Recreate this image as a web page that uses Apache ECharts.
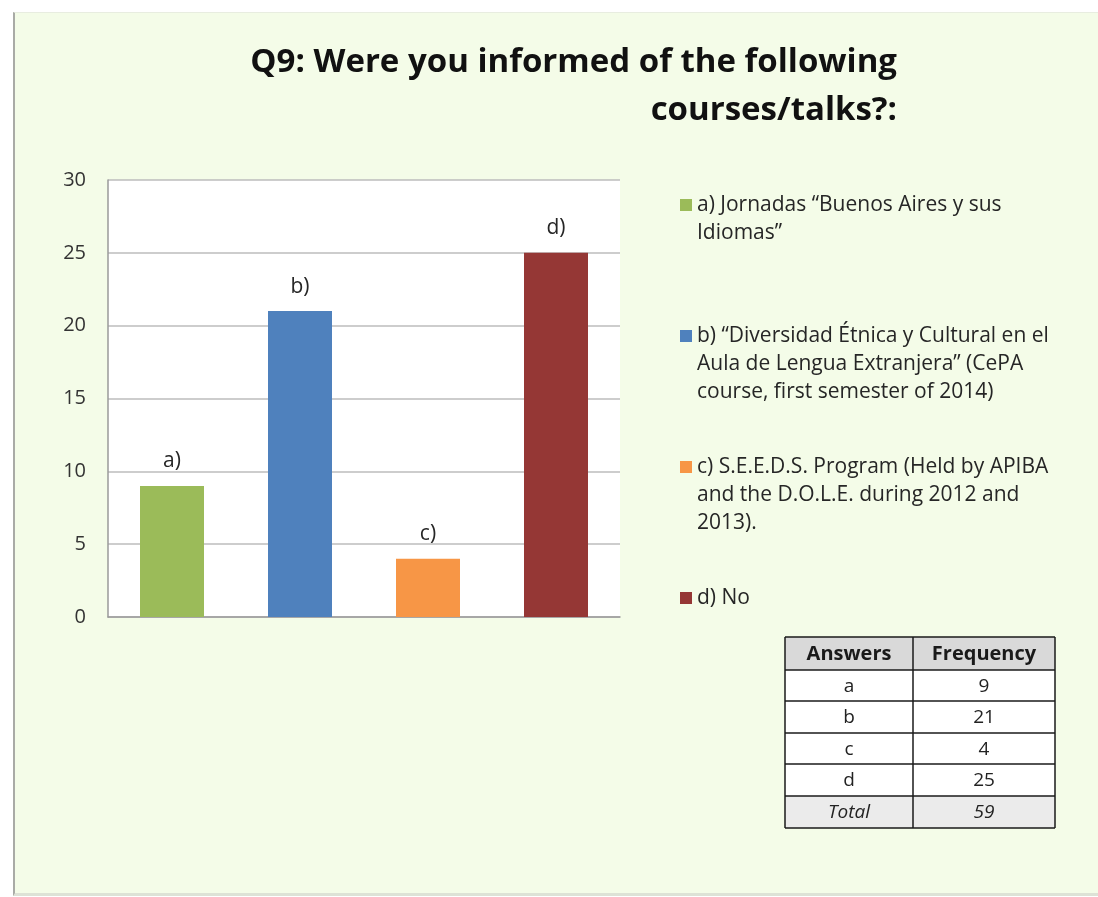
<!DOCTYPE html>
<html>
<head>
<meta charset="utf-8">
<script src="https://cdn.jsdelivr.net/npm/echarts@6/dist/echarts.min.js"></script>
<style>
html, body { margin: 0; padding: 0; background: #ffffff; }
#wrap { position: relative; width: 1098px; height: 897px; background: #ffffff; overflow: hidden; }
#frame { position: absolute; left: 13px; top: 12px; width: 1085px; height: 880px; background: #F4FCE8;
  border-left: 2px solid #A9ABA6; border-top: 1px solid #E8EDE0; border-bottom: 3px solid #DDE2D6; }
#chart { position: absolute; left: 0; top: 0; width: 1098px; height: 897px; }
</style>
</head>
<body>
<div id="wrap">
  <div id="frame"></div>
  <div id="chart"></div>
</div>
<script>
// ---- data ----
const categories = ['a', 'b', 'c', 'd'];
const values = [9, 21, 4, 25];
const barLabels = ['a)', 'b)', 'c)', 'd)'];
const colors = ['#9BBB59', '#4F81BD', '#F79646', '#953735'];
const legendLines = [
  ['a) Jornadas \u201CBuenos Aires y sus', 'Idiomas\u201D'],
  ['b) \u201CDiversidad \u00C9tnica y Cultural en el', 'Aula de Lengua Extranjera\u201D (CePA', 'course, first semester of 2014)'],
  ['c) S.E.E.D.S. Program (Held by APIBA', 'and the D.O.L.E. during 2012 and', '2013).'],
  ['d) No']
];
const yTicks = [0, 5, 10, 15, 20, 25, 30];
const tableHeader = ['Answers', 'Frequency'];
const tableAnswers = ['a', 'b', 'c', 'd'];
const tableFreq = [9, 21, 4, 25];
const totalLabel = 'Total';
const totalValue = 59;
const titleText = 'Q9: Were you informed of the following\ncourses/talks?:';

// ---- chart ----
const FONT = '"Open Sans", sans-serif';
const chart = echarts.init(document.getElementById('chart'), null, { renderer: 'canvas' });

// legend text padded so the icon sits beside the first line and all items share one height
const LEG_LINES = 5;
function paddedLegend(lines) {
  const out = ['', ''].concat(lines);
  while (out.length < LEG_LINES) out.push('');
  return out.join('\n');
}
const legendMap = {};
categories.forEach((c, i) => { legendMap[c] = paddedLegend(legendLines[i]); });

const series = categories.map((c, i) => ({
  name: c,
  type: 'bar',
  stack: 'all',
  barWidth: '50%',
  itemStyle: { color: colors[i] },
  data: values.map((v, j) => (j === i ? v : '-')),
  label: {
    show: true,
    position: 'top',
    distance: 14,
    formatter: () => barLabels[i],
    fontFamily: FONT,
    fontSize: 21,
    color: '#262626'
  }
}));

// table graphic
const colX = [785, 913, 1055];
const rowY = [637, 670, 701, 733, 764, 796, 828];
const g = [];
const rowBg = ['#D9D9D9', '#FFFFFF', '#FFFFFF', '#FFFFFF', '#FFFFFF', '#EBEBEB'];
const rows = [tableHeader].concat(tableAnswers.map((a, i) => [a, String(tableFreq[i])])).concat([[totalLabel, String(totalValue)]]);
rows.forEach((r, ri) => {
  g.push({ type: 'rect', shape: { x: colX[0], y: rowY[ri], width: colX[2] - colX[0], height: rowY[ri + 1] - rowY[ri] },
    style: { fill: rowBg[ri], stroke: null } });
  r.forEach((t, ci) => {
    g.push({ type: 'text', x: (colX[ci] + colX[ci + 1]) / 2, y: (rowY[ri] + rowY[ri + 1]) / 2 + 1,
      style: { text: t, align: 'center', verticalAlign: 'middle', fill: ri === 0 ? '#1a1a1a' : '#222',
        fontFamily: FONT, fontSize: ri === 0 ? 20 : 19,
        fontWeight: ri === 0 ? 'bold' : 'normal', fontStyle: ri === rows.length - 1 ? 'italic' : 'normal' } });
  });
});
rowY.forEach(y => g.push({ type: 'line', shape: { x1: colX[0], y1: y, x2: colX[2], y2: y }, style: { stroke: '#1a1a1a', lineWidth: 1.5 } }));
colX.forEach(x => g.push({ type: 'line', shape: { x1: x, y1: rowY[0], x2: x, y2: rowY[rowY.length - 1] }, style: { stroke: '#1a1a1a', lineWidth: 1.5 } }));

const option = {
  backgroundColor: 'transparent',
  animation: false,
  title: {
    text: titleText,
    left: 897,
    top: 39,
    textAlign: 'right',
    textVerticalAlign: 'top',
    padding: 0,
    textStyle: { fontFamily: FONT, fontWeight: 'bold', fontSize: 33, lineHeight: 48, color: '#111111' }
  },
  legend: {
    orient: 'vertical',
    left: 675,
    top: 130,
    itemGap: -9,
    itemWidth: 12,
    itemHeight: 12,
    icon: 'rect',
    selectedMode: false,
    data: categories,
    formatter: name => legendMap[name],
    textStyle: { fontFamily: FONT, fontSize: 21, lineHeight: 28, color: '#262626' }
  },
  grid: {
    left: 108, top: 180, width: 512, height: 437,
    show: true, backgroundColor: '#FFFFFF', borderWidth: 0
  },
  xAxis: {
    type: 'category',
    data: categories,
    axisLine: { show: true, lineStyle: { color: '#9A9A9A', width: 1.5 } },
    axisTick: { show: false },
    axisLabel: { show: false },
    splitLine: { show: false }
  },
  yAxis: {
    type: 'value',
    min: yTicks[0],
    max: yTicks[yTicks.length - 1],
    interval: yTicks[1] - yTicks[0],
    axisLine: { show: true, lineStyle: { color: '#9A9A9A', width: 1.5 } },
    axisTick: { show: false },
    axisLabel: { fontFamily: FONT, fontSize: 20, color: '#333333', margin: 22 },
    splitLine: { lineStyle: { color: '#BDBDBD', width: 1.5 } }
  },
  series: series,
  graphic: g
};
chart.setOption(option);
</script>
</body>
</html>
